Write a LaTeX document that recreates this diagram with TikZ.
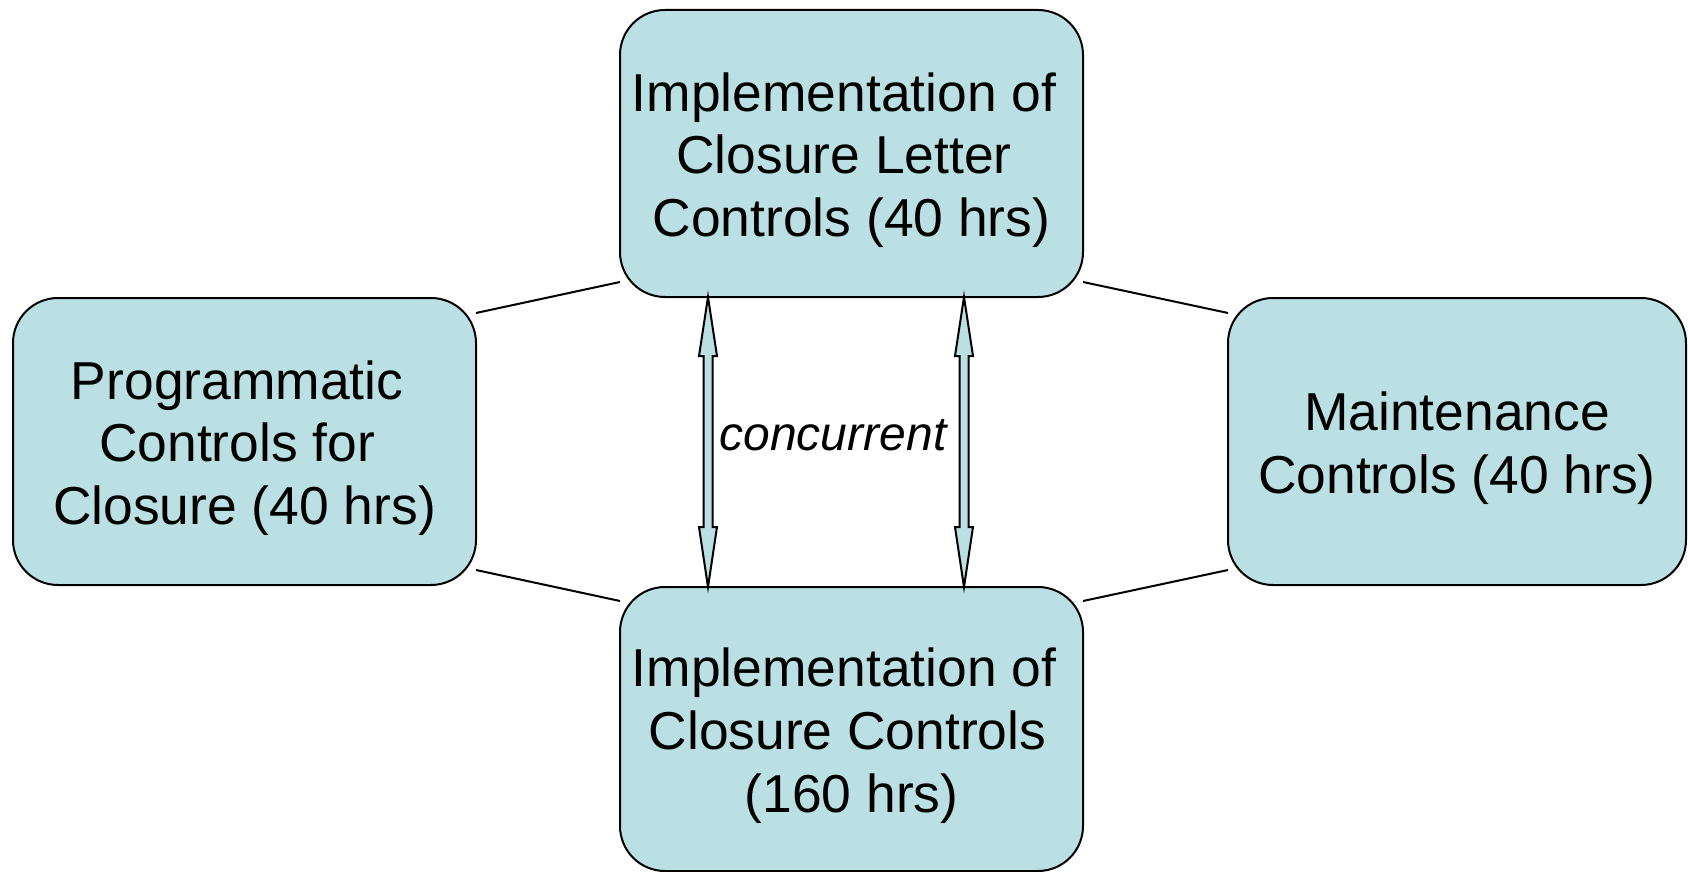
\documentclass[tikz,border=0pt]{standalone}
\usepackage{fontspec}
\setmainfont{Liberation Sans}
\usetikzlibrary{calc}
\definecolor{boxfill}{RGB}{187,224,227}
\newcommand\trsp{\kern7.4pt}
\newcommand\firstln{\rule{0pt}{26pt}}
\begin{document}
\begin{tikzpicture}[x=0.5pt,y=-0.5pt,
  box/.style={draw=black, line width=1pt, fill=boxfill, rounded corners=22.5pt,
    minimum width=231.5pt, minimum height=143.5pt, inner sep=0pt, outer sep=0pt,
    align=center, font=\fontsize{26.7}{31.3}\selectfont},
  link/.style={draw=black, line width=1pt},
  dblarrow/.style={draw=black, line width=1pt, fill=boxfill, line join=miter}]
\useasboundingbox (0,0) rectangle (1688,872);
\node[box] (top) at (851.5,153.5) {\firstln Implementation of\trsp\\Closure Letter\trsp\\Controls (40 hrs)};
\node[box] (left) at (244.5,441.5) {\firstln Programmatic\trsp\\Controls for\trsp\\Closure (40 hrs)};
\node[box, minimum width=229pt] (right) at (1457,441.5) {\firstln Maintenance\\Controls (40 hrs)};
\node[box, minimum height=142pt] (bot) at (851.5,729) {\firstln Implementation of\trsp\\Closure Controls\kern4pt\\(160 hrs)};

\draw[link] ([yshift=-7.5pt]left.north east) -- ([yshift=7.5pt]top.south west);
\draw[link] ([yshift=7.5pt]left.south east) -- ([yshift=-7pt]bot.north west);
\draw[link] ([yshift=7.5pt]top.south east) -- ([yshift=-7.5pt]right.north west);
\draw[link] ([yshift=-7pt]bot.north east) -- ([yshift=7.5pt]right.south west);

\coordinate (a1) at ([xshift=44pt]top.south west);
\coordinate (b1) at ([xshift=44pt]bot.north west);
\coordinate (a2) at ([xshift=172pt]top.south west);
\coordinate (b2) at ([xshift=172pt]bot.north west);
\foreach \a/\b in {a1/b1,a2/b2}{
  \path[dblarrow] (\a) -- ($(\a)+(-9,59)$) -- ($(\a)+(-4.5,59)$) -- ($(\b)+(-4.5,-60)$)
    -- ($(\b)+(-9,-60)$) -- (\b) -- ($(\b)+(9,-60)$) -- ($(\b)+(4.5,-60)$)
    -- ($(\a)+(4.5,59)$) -- ($(\a)+(9,59)$) -- cycle;
}
\node[anchor=base, inner sep=0pt, font=\fontsize{24}{28}\selectfont\itshape] (conc) at (833,450) {concurrent};
\end{tikzpicture}
\end{document}
